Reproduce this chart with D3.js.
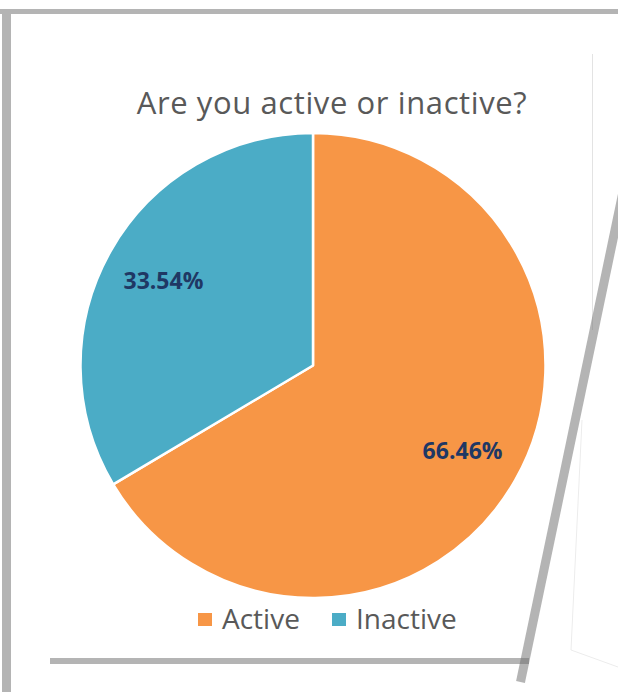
<!DOCTYPE html>
<html>
<head>
<meta charset="utf-8">
<script src="https://cdn.jsdelivr.net/npm/d3@7"></script>
<style>
  html, body { margin: 0; padding: 0; background: #ffffff; }
  svg { display: block; }
</style>
</head>
<body>
<svg id="chart" width="618" height="692"></svg>
<script>
const title = "Are you active or inactive?";
const categories = ["Active", "Inactive"];
const values = [66.46, 33.54];
const colors = ["#F79646", "#4BACC6"];

const svg = d3.select("#chart");
const W = 618, H = 692;

// background paper
svg.append("rect").attr("width", W).attr("height", H).attr("fill", "#ffffff");

// faint back-sheet edges
svg.append("line").attr("x1", 592.5).attr("y1", 54).attr("x2", 592.5).attr("y2", 330)
  .attr("stroke", "#e3e3e3").attr("stroke-width", 1);
svg.append("polyline").attr("points", "582,420 571,650 618,667")
  .attr("fill", "none").attr("stroke", "#ececec").attr("stroke-width", 1);

// title
svg.append("text")
  .attr("x", 332).attr("y", 114)
  .attr("text-anchor", "middle")
  .attr("font-family", "'Open Sans', sans-serif")
  .attr("font-size", 31)
  .attr("letter-spacing", 0.6)
  .attr("fill", "#595959")
  .text(title);

// pie
const cx = 313, cy = 365.5, r = 232.5;
const pie = d3.pie().sort(null).value(d => d.value);
const data = pie(categories.map((c, i) => ({ name: c, value: values[i], color: colors[i] })));
const arc = d3.arc().innerRadius(0).outerRadius(r);
const labelArc = d3.arc().innerRadius(r * 0.74).outerRadius(r * 0.74);

const g = svg.append("g").attr("transform", `translate(${cx},${cy})`);
g.selectAll("path").data(data).enter().append("path")
  .attr("d", arc)
  .attr("fill", d => d.data.color)
  .attr("stroke", "#ffffff")
  .attr("stroke-width", 2.5)
  .attr("stroke-linejoin", "round");

g.selectAll("text.lbl").data(data).enter().append("text")
  .attr("class", "lbl")
  .attr("transform", d => `translate(${labelArc.centroid(d)})`)
  .attr("text-anchor", "middle")
  .attr("dy", "0.35em")
  .attr("font-family", "'Open Sans', sans-serif")
  .attr("font-weight", "bold")
  .attr("font-size", 23)
  .attr("fill", "#1F3864")
  .text(d => d.data.value.toFixed(2) + "%");

// legend
const legendX = [198, 332];
const lg = svg.append("g");
categories.forEach((c, i) => {
  lg.append("rect").attr("x", legendX[i]).attr("y", 613).attr("width", 14).attr("height", 13)
    .attr("fill", colors[i]);
  lg.append("text").attr("x", legendX[i] + 24).attr("y", 629)
    .attr("font-family", "'Open Sans', sans-serif")
    .attr("font-size", 28)
    .attr("fill", "#595959")
    .text(c);
});

// frame lines
const frameColor = "#6f6f6f", frameOpacity = 0.52;
svg.append("rect").attr("x", 0).attr("y", 9).attr("width", W).attr("height", 5)
  .attr("fill", frameColor).attr("opacity", frameOpacity);
svg.append("rect").attr("x", 2).attr("y", 14).attr("width", 9).attr("height", H - 14)
  .attr("fill", frameColor).attr("opacity", frameOpacity);
svg.append("rect").attr("x", 50).attr("y", 658).attr("width", 479).attr("height", 6)
  .attr("fill", frameColor).attr("opacity", frameOpacity);
svg.append("line").attr("x1", 624).attr("y1", 187).attr("x2", 520.5).attr("y2", 682)
  .attr("stroke", frameColor).attr("stroke-opacity", frameOpacity).attr("stroke-width", 9);
</script>
</body>
</html>
